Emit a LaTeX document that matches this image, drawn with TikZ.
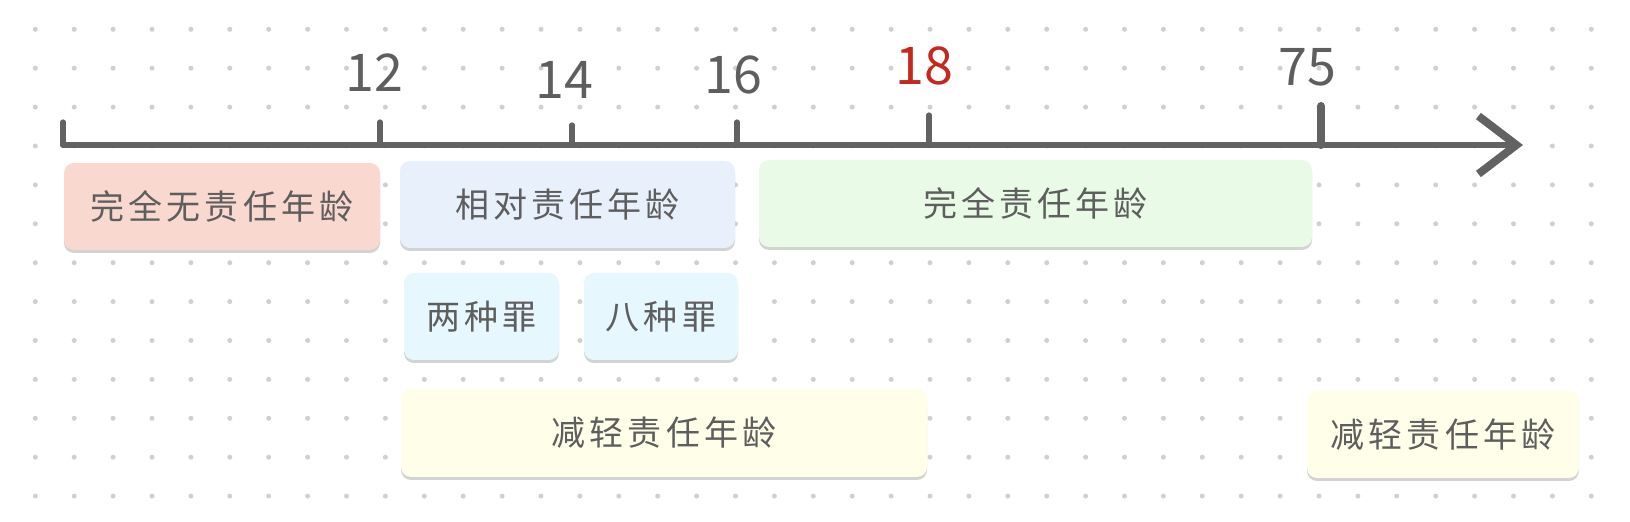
\documentclass[tikz,border=0pt]{standalone}
\usepackage{fontspec}
\newfontfamily\cjk[LetterSpace=12]{Noto Sans CJK SC}
\newfontfamily\numfont{Noto Sans CJK SC}
\definecolor{inkgrey}{RGB}{94, 94, 94}
\definecolor{axisgrey}{RGB}{98, 98, 98}
\definecolor{dotgrey}{RGB}{208, 208, 208}
\definecolor{agered}{RGB}{196, 40, 30}
\definecolor{nonepink}{RGB}{248, 216, 207}
\definecolor{relblue}{RGB}{232, 240, 252}
\definecolor{fullgreen}{RGB}{233, 251, 230}
\definecolor{crimecyan}{RGB}{230, 247, 254}
\definecolor{lessyellow}{RGB}{254, 254, 233}
\usetikzlibrary{arrows.meta, shadows, positioning}

\tikzset{
  agebox/.style={rounded corners=5pt, inner sep=0pt, minimum height=43.5pt, text=inkgrey,
    font=\cjk\fontsize{17}{20}\selectfont,
    drop shadow={opacity=0.35, shadow xshift=0pt, shadow yshift=-1.5pt}},
  agetick/.style={draw=axisgrey, line width=2.6pt, line cap=round},
  agenum/.style={font=\numfont\fontsize{26}{28}\selectfont, text=inkgrey, inner sep=0pt}
}

\begin{document}
\begin{tikzpicture}[x=0.5pt, y=-0.5pt]
  \useasboundingbox (0,0) rectangle (1630,522);

  % dotted paper
  \foreach \i in {0,...,40}
    \foreach \j in {0,...,12}
      \fill[dotgrey] ({35.3+38.9*\i}, {29.3+38.9*\j}) circle (1.25pt);

  % age boxes
  \node[agebox, fill=nonepink, minimum width=158pt] (none) at (222, 206.5) {完全无责任年龄};
  \node[agebox, fill=relblue, minimum width=167.5pt] (rel) at (567.5, 204.5) {相对责任年龄};
  \node[agebox, fill=fullgreen, minimum width=276.5pt] (full) at (1035.5, 203.5) {完全责任年龄};
  \node[agebox, fill=crimecyan, minimum width=77.5pt] (two) at (481.5, 316.5) {两种罪};
  \node[agebox, fill=crimecyan, minimum width=77pt] (eight) at (661, 316.5) {八种罪};
  \node[agebox, fill=lessyellow, minimum width=263pt, minimum height=44pt] (lessa) at (664, 433) {减轻责任年龄};
  \node[agebox, fill=lessyellow, minimum width=136pt] (lessb) at (1443, 434.5) {减轻责任年龄};

  % time axis
  \coordinate (ax0) at (63, 145);
  \coordinate (axend) at (1523, 145);
  \draw[axisgrey, line width=3pt, line cap=round, -{Straight Barb[length=19pt, width=29pt, line width=4pt]}] (ax0) -- (axend);

  % ticks
  \coordinate (t0) at (63, 122);
  \coordinate (t12) at (380, 122);
  \coordinate (t14) at (572, 125);
  \coordinate (t16) at (737, 122);
  \coordinate (t18) at (929, 115);
  \coordinate (t75) at (1321, 106);
  \foreach \t in {t0, t12, t14, t16, t18}
    \draw[agetick] (\t) -- (\t |- ax0);
  \draw[agetick, line width=4pt] (t75) -- (t75 |- ax0);

  % age labels
  \node[agenum] (n12) at (374, 72.5) {12};
  \node[agenum] (n14) at (564, 80) {14};
  \node[agenum] (n16) at (733, 75) {16};
  \node[agenum, text=agered] (n18) at (924, 66) {18};
  \node[agenum] (n75) at (1307, 67) {75};
\end{tikzpicture}
\end{document}
